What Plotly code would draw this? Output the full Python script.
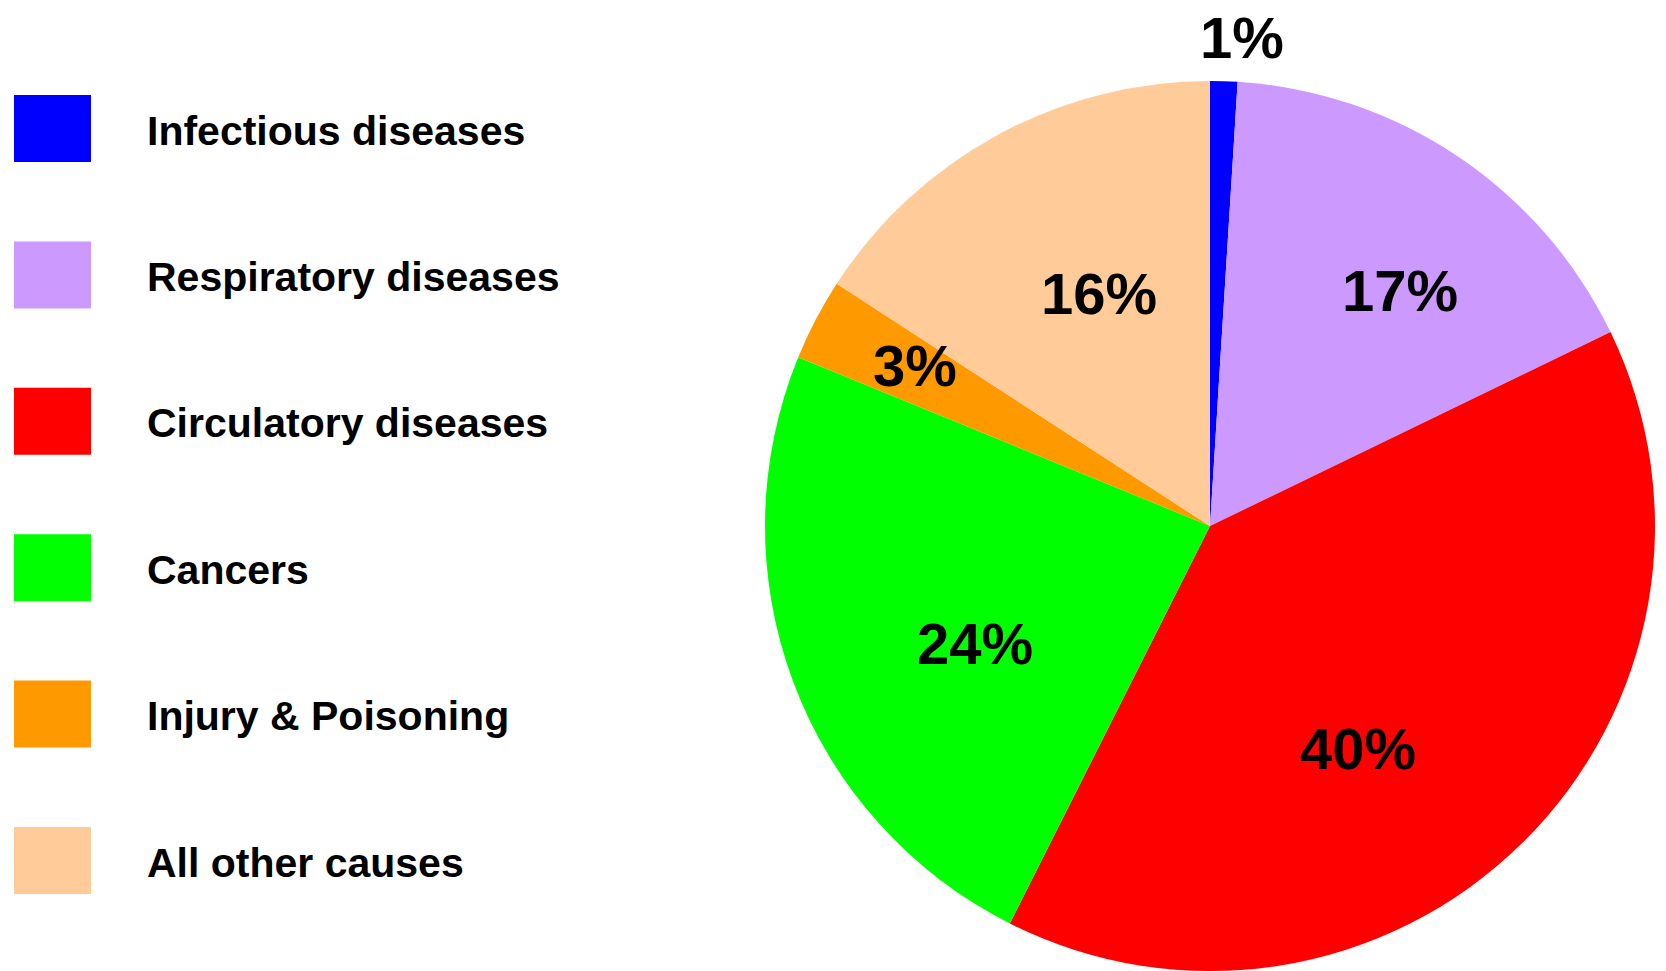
import math
import plotly.graph_objects as go

# Share of deaths by cause
causes = ["Infectious diseases", "Respiratory diseases", "Circulatory diseases",
          "Cancers", "Injury & Poisoning", "All other causes"]
shares = [1, 17, 40, 24, 3, 16]
colors = ["#0000FF", "#CC99FF", "#FF0000", "#00FF00", "#FF9900", "#FFCC99"]

# label placement: radius as a fraction of the pie radius, and a small
# angular nudge (degrees) away from the slice bisector
label_radius = [1.10, 0.68, 0.60, 0.59, 0.755, 0.58]
label_nudge = [2, 5, 11, -6, 1, 3]

W, H = 1666, 971
FONT = "Liberation Sans, Arial, sans-serif"

# pie geometry in pixels (centre measured from the top-left corner)
r = 445
cx, cy = 1210, H - r

fig = go.Figure(go.Pie(
    labels=causes,
    values=shares,
    sort=False,
    direction="clockwise",
    rotation=0,
    marker=dict(colors=colors, line=dict(width=0)),
    textinfo="none",
    showlegend=False,
    hoverinfo="label+value",
    domain=dict(x=[(cx - r) / W, (cx + r) / W],
                y=[0, 2 * r / H]),
))

annots, shapes = [], []

# percentage labels placed along each slice's bisector
total = sum(shares)
cum = 0
for v, f, nudge in zip(shares, label_radius, label_nudge):
    mid = 360 * (cum + v / 2) / total + nudge
    cum += v
    th = math.radians(mid)
    px = cx + f * r * math.sin(th)
    py = cy - f * r * math.cos(th)
    annots.append(dict(text=f"{v}%", xref="paper", yref="paper",
                       x=px / W, y=1 - py / H,
                       xanchor="center", yanchor="middle", showarrow=False,
                       font=dict(family=FONT, size=58, color="black", weight="bold")))

# legend: coloured blocks with labels
top0, step, bw, bh = 95, 146.4, 77, 67
for i, (name, col) in enumerate(zip(causes, colors)):
    y0 = top0 + i * step
    shapes.append(dict(type="rect", xref="paper", yref="paper",
                       x0=14 / W, x1=(14 + bw) / W,
                       y0=1 - (y0 + bh) / H, y1=1 - y0 / H,
                       fillcolor=col, line=dict(width=0)))
    annots.append(dict(text=name, xref="paper", yref="paper",
                       x=145 / W, y=1 - (y0 + bh / 2 + 2) / H,
                       xanchor="left", yanchor="middle", showarrow=False,
                       font=dict(family=FONT, size=41, color="black", weight="bold")))

fig.update_layout(
    width=W, height=H,
    margin=dict(l=0, r=0, t=0, b=0),
    paper_bgcolor="white", plot_bgcolor="white",
    shapes=shapes, annotations=annots,
)

fig.write_html("out.html")
